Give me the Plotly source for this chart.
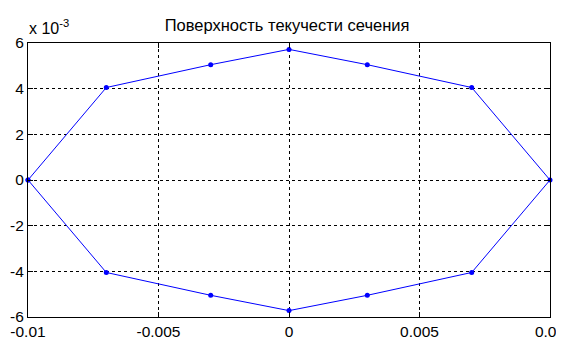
import plotly.graph_objects as go

# Yield surface of section (x, y in original units; y shown as x 10^-3)
x_vals = [-0.01, -0.007, -0.003, 0.0, 0.003, 0.007, 0.01, 0.007, 0.003, 0.0, -0.003, -0.007, -0.01]
y_vals_e3 = [0.0, 4.05, 5.05, 5.72, 5.05, 4.05, 0.0, -4.05, -5.05, -5.72, -5.05, -4.05, 0.0]
y_vals = [v * 1e-3 for v in y_vals_e3]

x_ticks = [-0.01, -0.005, 0, 0.005, 0.01]
x_ticktext = ["-0.01", "-0.005", "0", "0.005", "0.01"]
y_ticks_e3 = [-6, -4, -2, 0, 2, 4, 6]
y_ticks = [v * 1e-3 for v in y_ticks_e3]
y_ticktext = [str(v) for v in y_ticks_e3]

title_text = "Поверхность текучести сечения"
font_family = "Liberation Sans, Arial, sans-serif"

fig = go.Figure()
fig.add_trace(go.Scatter(
    x=x_vals, y=y_vals, mode="lines+markers",
    line=dict(color="#0000ff", width=1),
    marker=dict(color="#0000ff", size=5, symbol="circle"),
    showlegend=False, cliponaxis=False,
))

axis_common = dict(
    showgrid=True, gridcolor="black", gridwidth=1, griddash="3px,3px",
    showline=True, linecolor="black", linewidth=1, mirror="ticks",
    ticks="inside", ticklen=5, tickcolor="black",
    zeroline=False, automargin=False, ticklabeloverflow="allow",
    tickfont=dict(family=font_family, size=15.5, color="black"),
)

fig.update_xaxes(range=[-0.01, 0.01], tickvals=x_ticks, ticktext=x_ticktext, **axis_common)
fig.update_yaxes(range=[-6e-3, 6e-3], tickvals=y_ticks, ticktext=y_ticktext, **axis_common)

# page has an 8px body margin, so the figure is sized to fit inside 564x338
fig.update_layout(
    width=556, height=330,
    margin=dict(l=20, r=14, t=35, b=21),
    paper_bgcolor="white", plot_bgcolor="white",
    title=dict(text=title_text, x=0.502, xanchor="center", y=0.948, yanchor="middle",
               font=dict(family=font_family, size=16.5, color="black")),
    annotations=[dict(
        text="x 10<sup>-3</sup>", xref="paper", yref="paper", x=-0.002, y=1.0,
        xanchor="left", yanchor="bottom", yshift=4, showarrow=False,
        font=dict(family=font_family, size=16, color="black"),
    )],
)

fig.write_html("out.html")
